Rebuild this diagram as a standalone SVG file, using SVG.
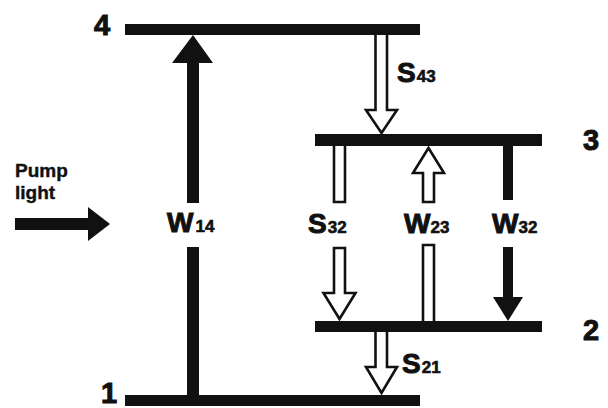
<svg xmlns="http://www.w3.org/2000/svg" width="608" height="408" viewBox="0 0 608 408">
<style>
.lvl{fill:#111}
.solid{fill:#111}
.hollow{fill:#fff;stroke:#111;stroke-width:2.6;stroke-linejoin:miter}
.lab{font-family:"Liberation Sans",Arial,sans-serif;font-weight:bold;font-size:28px;fill:#111;stroke:#111;stroke-width:1}
.sub{font-size:17px;stroke-width:0.6}
.num{font-family:"Liberation Sans",Arial,sans-serif;font-weight:bold;font-size:29px;fill:#111;stroke:#111;stroke-width:1}
.pump{font-family:"Liberation Sans",Arial,sans-serif;font-weight:bold;font-size:19px;fill:#111;stroke:#111;stroke-width:0.4}
</style>
<rect width="608" height="408" fill="#fff"/>

<g id="level4">
<rect class="lvl" x="125" y="24" width="295" height="11"/>
<text class="num" x="94" y="35">4</text>
</g>
<g id="level3">
<rect class="lvl" x="315" y="134" width="227" height="12"/>
<text class="num" x="583" y="150">3</text>
</g>
<g id="level2">
<rect class="lvl" x="315" y="321" width="227" height="11"/>
<text class="num" x="583" y="340">2</text>
</g>
<g id="level1">
<rect class="lvl" x="125" y="395" width="295" height="11"/>
<text class="num" x="101" y="403">1</text>
</g>

<g id="pump">
<text class="pump" x="15" y="177">Pump</text>
<text class="pump" x="15" y="199">light</text>
<path class="solid" d="M15,218 H88 V207 L110,224 L88,241 V230 H15 Z"/>
</g>

<g id="connectors">
<!-- W14 -->
<path class="solid" d="M187,203 V63 H172 L193,35 L213,63 H199 V203 Z"/>
<rect class="solid" x="187" y="247" width="12" height="148"/>
<!-- S43 -->
<path class="hollow" d="M375.5,35 V110 H366 L381.5,133 L397,110 H387 V35"/>
<!-- S32 -->
<path class="hollow" d="M334,146 V202 H345 V146"/>
<path class="hollow" d="M334,248 V293 H323.5 L339.5,319 L355.5,293 H345 V248 Z"/>
<!-- W23 -->
<path class="hollow" d="M423,202 V173 H413 L428.5,148 L444,173 H434 V202 Z"/>
<path class="hollow" d="M423,321 V245 H434 V321"/>
<!-- W32 -->
<rect class="solid" x="503" y="146" width="10" height="54"/>
<path class="solid" d="M503,247 H513 V297 H523 L508,321 L493,297 H503 Z"/>
<!-- S21 -->
<path class="hollow" d="M375.5,332 V367 H366 L381.5,393 L397,367 H387 V332"/>
</g>

<g id="labels">
<text class="lab" x="167" y="232">W<tspan class="sub" dx="2">14</tspan></text>
<text class="lab" x="397" y="82">S<tspan class="sub" dx="1">43</tspan></text>
<text class="lab" x="308" y="233">S<tspan class="sub" dx="1">32</tspan></text>
<text class="lab" x="404" y="233">W<tspan class="sub" dx="0">23</tspan></text>
<text class="lab" x="492" y="233">W<tspan class="sub" dx="0">32</tspan></text>
<text class="lab" x="402" y="373">S<tspan class="sub" dx="1">21</tspan></text>
</g>
</svg>
